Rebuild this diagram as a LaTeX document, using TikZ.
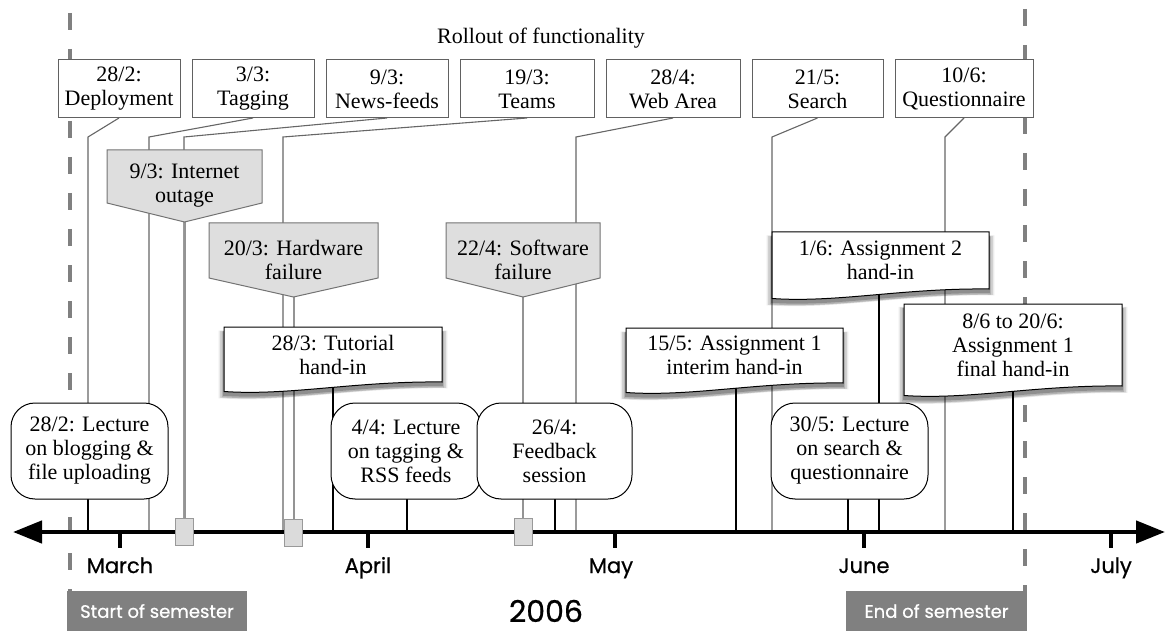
\documentclass[tikz,border=0pt]{standalone}
\usepackage{fontspec}
\setmainfont{Liberation Serif}
\newfontfamily\futfont[FakeBold=0.7]{Poppins}
\usetikzlibrary{arrows.meta,shadows}
\pgfdeclarelayer{back}
\pgfsetlayers{back,main}
\newcommand\ser{\fontsize{22pt}{24pt}\selectfont}
\makeatletter
\pgfdeclareshape{docwave}{%
  \inheritsavedanchors[from=rectangle]%
  \inheritanchorborder[from=rectangle]%
  \inheritanchor[from=rectangle]{center}%
  \inheritanchor[from=rectangle]{north}%
  \inheritanchor[from=rectangle]{south}%
  \inheritanchor[from=rectangle]{east}%
  \inheritanchor[from=rectangle]{west}%
  \inheritanchor[from=rectangle]{north east}%
  \inheritanchor[from=rectangle]{north west}%
  \inheritanchor[from=rectangle]{south east}%
  \inheritanchor[from=rectangle]{south west}%
  \inheritanchor[from=rectangle]{text}%
  \inheritanchor[from=rectangle]{base}%
  \inheritanchor[from=rectangle]{mid}%
  \backgroundpath{%
    \southwest \pgf@xa=\pgf@x \pgf@ya=\pgf@y
    \northeast \pgf@xb=\pgf@x \pgf@yb=\pgf@y
    \pgf@xc=\pgf@xb \advance\pgf@xc by -\pgf@xa
    \edef\dwl{\the\pgf@xa}\edef\dwb{\the\pgf@ya}%
    \edef\dwr{\the\pgf@xb}\edef\dwt{\the\pgf@yb}%
    \edef\dwcx{\the\dimexpr\pgf@xa+0.6\pgf@xc\relax}%
    \edef\dwcy{\the\dimexpr\pgf@ya+1pt\relax}%
    \edef\dwdx{\the\dimexpr\pgf@xa+0.3\pgf@xc\relax}%
    \edef\dwdy{\the\dimexpr\pgf@ya-14pt\relax}%
    \edef\dwey{\the\dimexpr\pgf@ya-9.5pt\relax}%
    \pgfpathmoveto{\pgfqpoint{\dwl}{\dwt}}%
    \pgfpathlineto{\pgfqpoint{\dwr}{\dwt}}%
    \pgfpathlineto{\pgfqpoint{\dwr}{\dwb}}%
    \pgfpathcurveto{\pgfqpoint{\dwcx}{\dwcy}}{\pgfqpoint{\dwdx}{\dwdy}}{\pgfqpoint{\dwl}{\dwey}}%
    \pgfpathclose
  }%
}
\pgfdeclareshape{incpent}{%
  \inheritsavedanchors[from=rectangle]%
  \inheritanchorborder[from=rectangle]%
  \inheritanchor[from=rectangle]{center}%
  \inheritanchor[from=rectangle]{north}%
  \inheritanchor[from=rectangle]{south}%
  \inheritanchor[from=rectangle]{east}%
  \inheritanchor[from=rectangle]{west}%
  \inheritanchor[from=rectangle]{north east}%
  \inheritanchor[from=rectangle]{north west}%
  \inheritanchor[from=rectangle]{south east}%
  \inheritanchor[from=rectangle]{south west}%
  \inheritanchor[from=rectangle]{text}%
  \inheritanchor[from=rectangle]{base}%
  \inheritanchor[from=rectangle]{mid}%
  \backgroundpath{%
    \southwest \pgf@xa=\pgf@x \pgf@ya=\pgf@y
    \northeast \pgf@xb=\pgf@x \pgf@yb=\pgf@y
    \edef\ipl{\the\pgf@xa}\edef\ipb{\the\pgf@ya}%
    \edef\ipr{\the\pgf@xb}\edef\ipt{\the\pgf@yb}%
    \edef\ipm{\the\dimexpr(\pgf@xa+\pgf@xb)/2\relax}%
    \edef\ips{\the\dimexpr\pgf@ya+19pt\relax}%
    \pgfpathmoveto{\pgfqpoint{\ipl}{\ipt}}%
    \pgfpathlineto{\pgfqpoint{\ipr}{\ipt}}%
    \pgfpathlineto{\pgfqpoint{\ipr}{\ips}}%
    \pgfpathlineto{\pgfqpoint{\ipm}{\ipb}}%
    \pgfpathlineto{\pgfqpoint{\ipl}{\ips}}%
    \pgfpathclose
  }%
}
\makeatother
\tikzset{
  topbox/.style={draw=black!62, line width=1pt, fill=white, font=\ser, align=center,
    inner sep=0pt, outer sep=0pt, minimum height=58pt},
  lecbox/.style={draw=black, line width=1pt, fill=white, font=\ser, align=center,
    inner sep=0pt, outer sep=0pt, rounded corners=24pt, minimum height=96pt},
  txtnode/.style={font=\ser, align=center, inner sep=0pt},
  docbox/.style={shape=docwave, draw=black, line width=1pt, fill=white, font=\ser,
    align=center, inner sep=0pt, outer sep=0pt,
    general shadow={shadow yshift=-5pt, shadow scale=1.05, fill=black, opacity=.08},
    general shadow={shadow yshift=-5pt, shadow scale=1.035, fill=black, opacity=.11},
    general shadow={shadow yshift=-5pt, shadow scale=1.02, fill=black, opacity=.15},
    general shadow={shadow yshift=-4pt, shadow scale=1.008, fill=black, opacity=.2}},
  incbox/.style={shape=incpent, draw=black!55, line width=1pt, fill=black!13, font=\ser,
    align=center, inner sep=0pt, outer sep=0pt},
  featline/.style={draw=black!60, line width=1.1pt},
  incline/.style={draw=black!42, line width=2pt},
  lecline/.style={draw=black, line width=1.1pt},
  asgline/.style={draw=black, line width=2pt},
  marker/.style={draw=black!40, line width=1pt, fill=black!14, minimum width=18pt,
    minimum height=27pt, inner sep=0pt, outer sep=0pt},
  semline/.style={draw=black!50, line width=4pt, dash pattern=on 17pt off 19pt},
  sembox/.style={fill=black!50, text=white, font=\futfont\fontsize{18pt}{20pt}\selectfont,
    minimum height=40pt, inner sep=0pt},
  month/.style={font=\futfont\fontsize{21pt}{24pt}\selectfont, anchor=base},
  tick/.style={line width=4pt, draw=black},
  axisline/.style={line width=4.5pt, draw=black,
    {Triangle[length=29pt,width=22pt]}-{Triangle[length=29pt,width=22pt]}}
}
\begin{document}
\begin{tikzpicture}[x=1pt,y=-1pt]
\useasboundingbox (0,0) rectangle (1170,631);

% axis coordinates
\foreach \xx in {88,149,184,283,293,333,407,523,555,576,736,772,848,879,945,1013}
  {\coordinate (x\xx) at (\xx,532);}
\foreach \xx in {88,149,184,283,576,772,945}
  {\coordinate (k\xx) at (\xx,137);}
\coordinate (axL) at (13,532);
\coordinate (axR) at (1165,532);

% title
\node[txtnode, anchor=base] (title) at (541,44) {Rollout of functionality};

% top boxes
\node[topbox, minimum width=122pt] (dep) at (119,89) {28/2:\\Deployment};
\node[topbox, minimum width=122pt] (tag) at (253,89) {3/3:\\Tagging};
\node[topbox, minimum width=122pt] (news) at (387,89) {9/3:\\News-feeds};
\node[topbox, minimum width=134pt] (teams) at (527,89) {19/3:\\Teams};
\node[topbox, minimum width=134pt] (web) at (673,89) {28/4:\\Web Area};
\node[topbox, minimum width=131pt] (search) at (817.5,89) {21/5:\\Search};
\node[topbox, minimum width=138pt] (quest) at (964,89) {10/6:\\Questionnaire};

% incidents
\node[incbox, minimum width=155pt, minimum height=72pt] (inc1) at (184.5,186) {9/3: Internet\\outage};
\node[incbox, minimum width=169pt, minimum height=74pt] (inc2) at (293.5,260) {20/3: Hardware\\failure};
\node[incbox, minimum width=154pt, minimum height=74pt] (inc3) at (523,260) {22/4: Software\\failure};

% document-shaped deadlines
\node[docbox, minimum width=218pt, minimum height=55pt] (tut) at (333,354.5) {28/3: Tutorial\\hand-in};
\node[docbox, minimum width=217pt, minimum height=55pt] (asg1) at (734.5,355.5) {15/5: Assignment 1\\interim hand-in};
\node[docbox, minimum width=217pt, minimum height=57pt] (asg2) at (880.5,260.5) {1/6: Assignment 2\\hand-in};
\node[docbox, minimum width=218pt, minimum height=82pt] (asg3) at (1013,345) {8/6 to 20/6:\\Assignment 1\\final hand-in};

% lecture boxes
\node[lecbox, minimum width=157pt] (l1) at (89.5,451) {28/2: Lecture\\on blogging \&\\file uploading};
\node[lecbox, minimum width=150pt] (l2) at (406,451) {4/4: Lecture\\on tagging \&\\RSS feeds};
\node[lecbox, minimum width=155pt] (l3) at (554.5,451) {26/4:\\Feedback\\session};
\node[lecbox, minimum width=157pt] (l4) at (849.5,451) {30/5: Lecture\\on search \&\\questionnaire};

% semester boxes
\node[sembox, minimum width=180pt] (ss) at (157,611) {Start of semester};
\node[sembox, minimum width=181pt] (es) at (936.5,611) {End of semester};

% axis
\draw[axisline] (axL) -- (axR);
\foreach \mx in {120,368,615,864,1111}{
  \draw[tick] (\mx,532) -- (\mx,548);
}
\node[month] (mMar) at (120,573) {March};
\node[month] (mApr) at (368,573) {April};
\node[month] (mMay) at (611,573) {May};
\node[month] (mJun) at (864,573) {June};
\node[month] (mJul) at (1111,573) {July};
\node[font=\futfont\fontsize{30pt}{32pt}\selectfont, anchor=base] (year) at (546,622) {2006};

% incident markers
\node[marker] (m1) at (184.5,531.5) {};
\node[marker] (m2) at (293.5,533) {};
\node[marker] (m3) at (523,531.5) {};

% connectors behind everything
\begin{pgfonlayer}{back}
\coordinate (dsL) at (70,13);
\coordinate (dsR) at (1025,9);
\draw[semline] (dsL) -- (dsL |- ss.north);
\draw[semline] (dsR) -- (dsR |- es.north);
\draw[featline] (dep.south) -- (k88) -- (x88);
\draw[featline] (tag.south) -- (k149) -- (x149);
\draw[featline] (news.south) -- (k184) -- (x184);
\draw[featline] (teams.south) -- (k283) -- (x283);
\draw[featline] (web.south) -- (k576) -- (x576);
\draw[featline] (search.south) -- (k772) -- (x772);
\draw[featline] (quest.south) -- (k945) -- (x945);
\draw[incline] (inc1.south) -- (m1.north);
\draw[incline] (inc2.south) -- (m2.north);
\draw[incline] (inc3.south) -- (m3.north);
\draw[lecline] (x88 |- l1.south) -- (x88);
\draw[lecline] (x407 |- l2.south) -- (x407);
\draw[lecline] (x555 |- l3.south) -- (x555);
\draw[lecline] (x848 |- l4.south) -- (x848);
\draw[asgline] (x333 |- tut.south) -- (x333);
\draw[asgline] (x736 |- asg1.south) -- (x736);
\draw[asgline] (x879 |- asg2.south) -- (x879);
\draw[asgline] (x1013 |- asg3.south) -- (x1013);
\end{pgfonlayer}
\end{tikzpicture}
\end{document}
